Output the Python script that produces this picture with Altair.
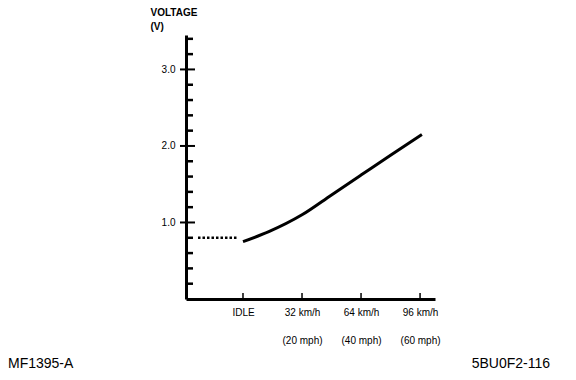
import altair as alt
import pandas as pd

# --- data ---
curve_speed = [0, 14, 32, 48, 64, 80, 97]                      # km/h (IDLE = 0)
curve_volt = [0.75, 0.88, 1.10, 1.36, 1.62, 1.88, 2.15]        # V
idle_speed = [-24.4, -2.7]
idle_volt = [0.80, 0.80]

x_tick_values = [0, 32, 64, 96]
x_tick_line1 = ["IDLE", "32 km/h", "64 km/h", "96 km/h"]
x_tick_line2 = ["", "(20 mph)", "(40 mph)", "(60 mph)"]
y_major = [1.0, 2.0, 3.0]
y_minor = [0.2, 0.4, 0.6, 0.8, 1.2, 1.4, 1.6, 1.8, 2.2, 2.4, 2.6, 2.8, 3.2, 3.4]
y_title = ["VOLTAGE", "(V)"]
corner_left = "MF1395-A"
corner_right = "5BU0F2-116"

X_DOMAIN = [-30.9, 104.1]
Y_DOMAIN = [0, 3.45]
FONT = "Liberation Sans"

curve = pd.DataFrame({"speed": curve_speed, "volt": curve_volt})
idle = pd.DataFrame({"speed": idle_speed, "volt": idle_volt})

parts = []
for v, a, b in zip(x_tick_values, x_tick_line1, x_tick_line2):
    lab = f"['{a}', '{b}']" if b else f"'{a}'"
    parts.append(f"datum.value == {v} ? {lab} : ")
label_expr = "".join(parts) + "''"

xscale = alt.Scale(domain=X_DOMAIN, nice=False, zero=False)
yscale = alt.Scale(domain=Y_DOMAIN, nice=False)

x_axis = alt.Axis(values=x_tick_values, labelExpr=label_expr, ticks=False, grid=False,
                  domainColor="black", domainWidth=3, labelFont=FONT, labelFontSize=10,
                  labelColor="black", labelPadding=8, labelLineHeight=28, title=None,
                  labelBaseline="top", labelFlush=False, labelOverlap=False)
y_axis = alt.Axis(values=y_major, format=".1f", ticks=False, grid=False,
                  domainColor="black", domainWidth=3, labelFont=FONT, labelFontSize=10,
                  labelColor="black", labelPadding=11, title=y_title, titleAngle=0,
                  titleX=-36, titleY=-28, titleBaseline="top", titleAlign="left",
                  titleFont=FONT, titleFontSize=10, titleFontWeight="bold",
                  titleLineHeight=14, titleColor="black", labelFlush=False)

line = alt.Chart(curve).mark_line(color="black", strokeWidth=3, interpolate="monotone").encode(
    x=alt.X("speed:Q", scale=xscale, axis=x_axis),
    y=alt.Y("volt:Q", scale=yscale, axis=y_axis),
)

dotted = alt.Chart(idle).mark_line(color="black", strokeWidth=2.5, strokeDash=[2.5, 2]).encode(
    x=alt.X("speed:Q", scale=xscale),
    y=alt.Y("volt:Q", scale=yscale),
)

xticks = alt.Chart(pd.DataFrame({"v": x_tick_values})).mark_rule(color="black", strokeWidth=1.5).encode(
    x=alt.X("v:Q", scale=xscale),
    y=alt.value(258),
    y2=alt.value(264),
)

ymajor = alt.Chart(pd.DataFrame({"v": y_major})).mark_rule(color="black", strokeWidth=2).encode(
    y=alt.Y("v:Q", scale=yscale),
    x=alt.value(-6),
    x2=alt.value(9),
)

yminor = alt.Chart(pd.DataFrame({"v": y_minor})).mark_rule(color="black", strokeWidth=2.5).encode(
    y=alt.Y("v:Q", scale=yscale),
    x=alt.value(0),
    x2=alt.value(7),
)

left_txt = alt.Chart(pd.DataFrame({"t": [corner_left]})).mark_text(
    align="left", baseline="middle", font=FONT, fontSize=14, color="black").encode(
    text="t:N", x=alt.value(-178), y=alt.value(329))
right_txt = alt.Chart(pd.DataFrame({"t": [corner_right]})).mark_text(
    align="right", baseline="middle", font=FONT, fontSize=14, color="black").encode(
    text="t:N", x=alt.value(364), y=alt.value(329))

chart = alt.layer(line, dotted, xticks, ymajor, yminor, left_txt, right_txt).properties(
    width=249, height=264,
    autosize=alt.AutoSizeParams(type="none"),
    padding={"left": 178, "top": 27, "right": 133, "bottom": 73},
).configure(background="white").configure_view(stroke=None, strokeWidth=0)

chart.save("out.html", embed_options={"renderer": "svg", "actions": False})
